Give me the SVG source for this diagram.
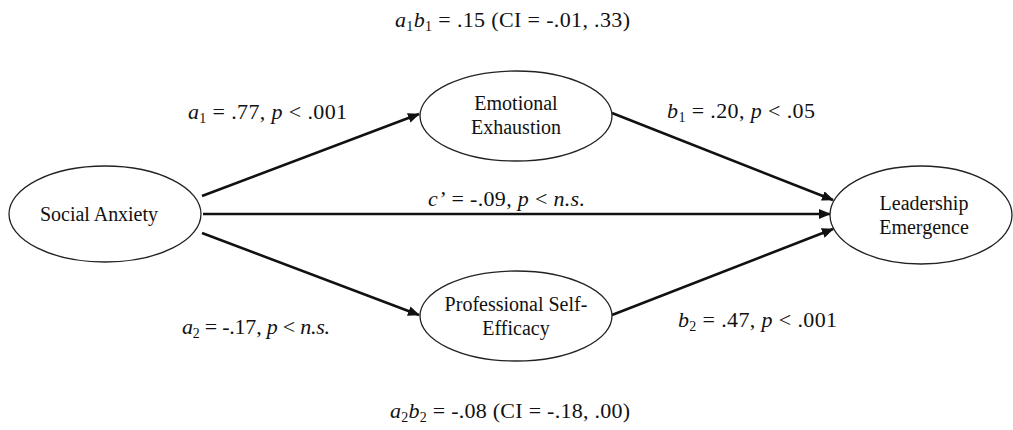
<svg xmlns="http://www.w3.org/2000/svg" width="1013" height="430" viewBox="0 0 1013 430">
<defs>
<style>
.node ellipse{fill:#fff;stroke:#222;stroke-width:1.3}
.node text{font-family:"Liberation Serif","Times New Roman",serif;font-size:20px;fill:#111;text-anchor:middle}
.lbl{font-family:"Liberation Serif","Times New Roman",serif;font-size:22px;fill:#111}
.lbl .i{font-style:italic}
.conn line{stroke:#111;stroke-width:2.6;marker-end:url(#ah)}
</style>
<marker id="ah" markerUnits="userSpaceOnUse" markerWidth="12" markerHeight="10" refX="11" refY="5" orient="auto">
<path d="M0,0 L12,5 L0,10 Z" fill="#111"/>
</marker>
</defs>
<rect width="1013" height="430" fill="#fff"/>
<g id="connectors" class="conn">
<line x1="202" y1="196" x2="419" y2="114"/>
<line x1="612" y1="113" x2="833" y2="200"/>
<line x1="203" y1="214" x2="830" y2="214"/>
<line x1="202" y1="233" x2="419" y2="315"/>
<line x1="612" y1="315" x2="833" y2="229"/>
</g>
<g id="social-anxiety" class="node">
<ellipse cx="105" cy="214" rx="96" ry="48"/>
<text x="99" y="221" textLength="118">Social Anxiety</text>
</g>
<g id="emotional-exhaustion" class="node">
<ellipse cx="516" cy="116" rx="96" ry="45"/>
<text x="516" y="110">Emotional</text>
<text x="516" y="134">Exhaustion</text>
</g>
<g id="professional-self-efficacy" class="node">
<ellipse cx="516" cy="316" rx="96" ry="45"/>
<text x="516" y="311">Professional Self-</text>
<text x="516" y="335">Efficacy</text>
</g>
<g id="leadership-emergence" class="node">
<ellipse cx="921" cy="215" rx="91" ry="49"/>
<text x="924" y="210">Leadership</text>
<text x="924" y="234">Emergence</text>
</g>
<g id="labels">
<text class="lbl" x="395" y="27" textLength="235"><tspan class="i">a</tspan><tspan font-size="14" dy="4">1</tspan><tspan class="i" dy="-4">b</tspan><tspan font-size="14" dy="4">1</tspan><tspan dy="-4"> = .15 (CI = -.01, .33)</tspan></text>
<text class="lbl" x="188" y="119" textLength="159"><tspan class="i">a</tspan><tspan font-size="14" dy="4">1</tspan><tspan dy="-4"> = .77, </tspan><tspan class="i">p</tspan> &lt; .001</text>
<text class="lbl" x="667" y="118" textLength="148"><tspan class="i">b</tspan><tspan font-size="14" dy="4">1</tspan><tspan dy="-4"> = .20, </tspan><tspan class="i">p</tspan> &lt; .05</text>
<text class="lbl" x="428" y="206" textLength="157"><tspan class="i">c’</tspan> = -.09, <tspan class="i">p</tspan> &lt; <tspan class="i">n.s.</tspan></text>
<text class="lbl" x="182" y="334" textLength="148"><tspan class="i">a</tspan><tspan font-size="14" dy="4">2</tspan><tspan dy="-4"> = -.17, </tspan><tspan class="i">p</tspan> &lt; <tspan class="i">n.s.</tspan></text>
<text class="lbl" x="678" y="327" textLength="159"><tspan class="i">b</tspan><tspan font-size="14" dy="4">2</tspan><tspan dy="-4"> = .47, </tspan><tspan class="i">p</tspan> &lt; .001</text>
<text class="lbl" x="390" y="418" textLength="240"><tspan class="i">a</tspan><tspan font-size="14" dy="4">2</tspan><tspan class="i" dy="-4">b</tspan><tspan font-size="14" dy="4">2</tspan><tspan dy="-4"> = -.08 (CI = -.18, .00)</tspan></text>
</g>
</svg>
